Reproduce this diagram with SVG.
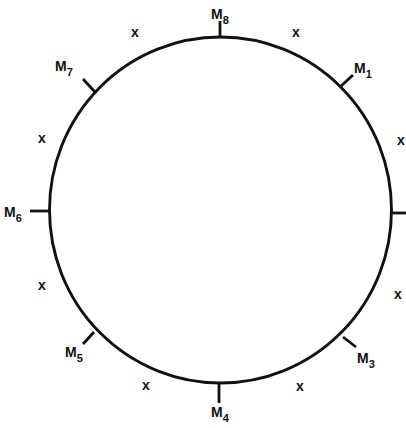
<svg xmlns="http://www.w3.org/2000/svg" width="406" height="428" viewBox="0 0 406 428">
<style>
.lbl{font-family:"Liberation Sans",Arial,sans-serif;font-weight:bold;font-size:14px;fill:#111}
.sub{font-size:11px}
.x{font-family:"Liberation Sans",Arial,sans-serif;font-weight:bold;font-size:14px;fill:#111;text-anchor:middle}
.tick{stroke:#111;stroke-width:2.8;fill:none}
</style>
<rect width="406" height="428" fill="#fff"/>
<g id="ring"><ellipse cx="220.5" cy="210" rx="171" ry="173" fill="none" stroke="#111" stroke-width="2.9"/></g>
<g id="connectors">
<line class="tick" x1="220" y1="37" x2="220" y2="21"/>
<line class="tick" x1="340" y1="87" x2="353" y2="75"/>
<line class="tick" x1="391" y1="213" x2="406" y2="213"/>
<line class="tick" x1="343" y1="337" x2="356" y2="347"/>
<line class="tick" x1="219" y1="383" x2="219" y2="403"/>
<line class="tick" x1="94" y1="332" x2="83" y2="344"/>
<line class="tick" x1="50" y1="211" x2="30" y2="211"/>
<line class="tick" x1="95" y1="92" x2="83" y2="79"/>
</g>
<g id="M8"><text class="lbl" x="211" y="19">M<tspan class="sub" dy="5">8</tspan></text></g>
<g id="M1"><text class="lbl" x="354" y="73">M<tspan class="sub" dy="5">1</tspan></text></g>
<g id="M3"><text class="lbl" x="357" y="363">M<tspan class="sub" dy="5">3</tspan></text></g>
<g id="M4"><text class="lbl" x="211" y="417">M<tspan class="sub" dy="5">4</tspan></text></g>
<g id="M5"><text class="lbl" x="65" y="357">M<tspan class="sub" dy="5">5</tspan></text></g>
<g id="M6"><text class="lbl" x="4" y="217">M<tspan class="sub" dy="5">6</tspan></text></g>
<g id="M7"><text class="lbl" x="55" y="71">M<tspan class="sub" dy="5">7</tspan></text></g>
<g id="xs">
<text class="x" x="135" y="37">x</text>
<text class="x" x="296" y="37">x</text>
<text class="x" x="42" y="143">x</text>
<text class="x" x="401" y="145">x</text>
<text class="x" x="42" y="290">x</text>
<text class="x" x="398" y="299">x</text>
<text class="x" x="146" y="390">x</text>
<text class="x" x="300" y="391">x</text>
</g>
</svg>
